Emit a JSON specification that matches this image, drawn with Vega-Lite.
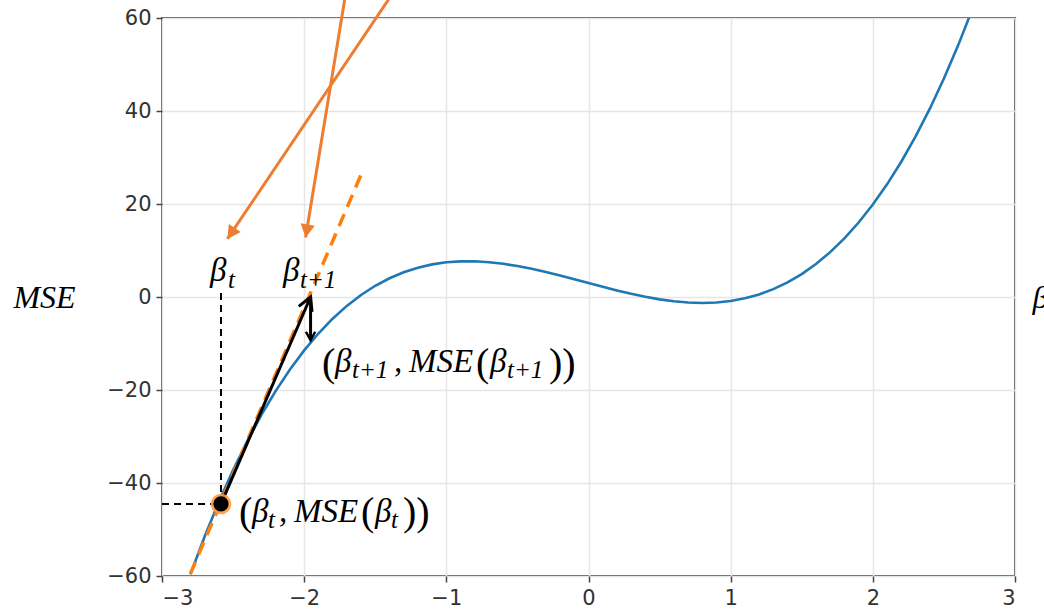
{
  "$schema": "https://vega.github.io/schema/vega-lite/v6.json",
  "width": 853,
  "height": 558,
  "autosize": {"type": "none"},
  "padding": {"left": 162, "top": 18, "right": 29, "bottom": 40},
  "background": "white",
  "config": {
    "view": {"stroke": "#555", "strokeWidth": 2},
    "axis": {
      "labelFont": "DejaVu Sans", "labelFontSize": 21, "labelColor": "#333",
      "tickColor": "#444", "tickWidth": 1.5, "tickSize": 6,
      "domain": false, "grid": true, "gridColor": "#e6e6e6", "gridWidth": 1.5,
      "titleFont": "Liberation Serif", "titleFontStyle": "italic", "titleFontWeight": "normal",
      "titleFontSize": 32, "titleColor": "black"
    }
  },
  "datasets": {
    "curve": [
      {"x": -2.8, "y": -59.608}, {"x": -2.7, "y": -51.513}, {"x": -2.6, "y": -44.06}, {"x": -2.5, "y": -37.225},
      {"x": -2.4, "y": -30.984}, {"x": -2.3, "y": -25.313}, {"x": -2.2, "y": -20.188}, {"x": -2.1, "y": -15.585},
      {"x": -2.0, "y": -11.48}, {"x": -1.9, "y": -7.849}, {"x": -1.8, "y": -4.668}, {"x": -1.7, "y": -1.913},
      {"x": -1.6, "y": 0.44}, {"x": -1.5, "y": 2.415}, {"x": -1.4, "y": 4.036}, {"x": -1.3, "y": 5.327},
      {"x": -1.2, "y": 6.312}, {"x": -1.1, "y": 7.015}, {"x": -1.0, "y": 7.46}, {"x": -0.9, "y": 7.671},
      {"x": -0.8, "y": 7.672}, {"x": -0.7, "y": 7.487}, {"x": -0.6, "y": 7.14}, {"x": -0.5, "y": 6.655},
      {"x": -0.4, "y": 6.056}, {"x": -0.3, "y": 5.367}, {"x": -0.2, "y": 4.612}, {"x": -0.1, "y": 3.815},
      {"x": 0.0, "y": 3.0}, {"x": 0.1, "y": 2.191}, {"x": 0.2, "y": 1.412}, {"x": 0.3, "y": 0.687},
      {"x": 0.4, "y": 0.04}, {"x": 0.5, "y": -0.505}, {"x": 0.6, "y": -0.924}, {"x": 0.7, "y": -1.193},
      {"x": 0.8, "y": -1.288}, {"x": 0.9, "y": -1.185}, {"x": 1.0, "y": -0.86}, {"x": 1.1, "y": -0.289},
      {"x": 1.2, "y": 0.552}, {"x": 1.3, "y": 1.687}, {"x": 1.4, "y": 3.14}, {"x": 1.5, "y": 4.935},
      {"x": 1.6, "y": 7.096}, {"x": 1.7, "y": 9.647}, {"x": 1.8, "y": 12.612}, {"x": 1.9, "y": 16.015},
      {"x": 2.0, "y": 19.88}, {"x": 2.1, "y": 24.231}, {"x": 2.2, "y": 29.092}, {"x": 2.3, "y": 34.487},
      {"x": 2.4, "y": 40.44}, {"x": 2.5, "y": 46.975}, {"x": 2.6, "y": 54.116}, {"x": 2.7, "y": 61.887}
    ],
    "tangent": [{"x": -2.8, "y": -59.5}, {"x": -1.59, "y": 27.0}],
    "guides": [
      {"g": "v", "x": -2.585, "y": -44.5}, {"g": "v", "x": -2.585, "y": 1.0},
      {"g": "h", "x": -3.0, "y": -44.5}, {"g": "h", "x": -2.585, "y": -44.5}
    ],
    "shafts": [
      {"g": "step", "x": -2.585, "y": -44.5}, {"g": "step", "x": -1.955, "y": 0.0},
      {"g": "drop", "x": -1.955, "y": 0.0}, {"g": "drop", "x": -1.955, "y": -9.3}
    ],
    "pointers": [
      {"g": "a", "x": -1.395, "y": 64.5}, {"g": "a", "x": -2.54, "y": 12.5},
      {"g": "b", "x": -1.712, "y": 64.5}, {"g": "b", "x": -1.99, "y": 12.8}
    ],
    "start": [{"x": -2.585, "y": -44.5}],
    "labels": [
      {"k": "m", "t": "β", "x": -2.6624, "y": 3.441},
      {"k": "s", "t": "t", "x": -2.5358, "y": 1.935},
      {"k": "m", "t": "β", "x": -2.1489, "y": 3.441},
      {"k": "s", "t": "t+1", "x": -2.0293, "y": 1.935},

      {"k": "p", "t": "(", "x": -1.8746, "y": -16.989},
      {"k": "m", "t": "β", "x": -1.7832, "y": -16.129},
      {"k": "s", "t": "t+1", "x": -1.6636, "y": -17.419},
      {"k": "m", "t": ",", "x": -1.3681, "y": -16.129},
      {"k": "m", "t": "MSE", "x": -1.2627, "y": -16.129},
      {"k": "p", "t": "(", "x": -0.7914, "y": -16.989},
      {"k": "m", "t": "β", "x": -0.6929, "y": -16.129},
      {"k": "s", "t": "t+1", "x": -0.5733, "y": -17.419},
      {"k": "p", "t": "))", "x": -0.2779, "y": -16.989},

      {"k": "p", "t": "(", "x": -2.4584, "y": -49.032},
      {"k": "m", "t": "β", "x": -2.367, "y": -48.387},
      {"k": "s", "t": "t", "x": -2.2544, "y": -49.677},
      {"k": "m", "t": ",", "x": -2.177, "y": -48.387},
      {"k": "m", "t": "MSE", "x": -2.0715, "y": -48.387},
      {"k": "p", "t": "(", "x": -1.6003, "y": -49.032},
      {"k": "m", "t": "β", "x": -1.5018, "y": -48.387},
      {"k": "s", "t": "t", "x": -1.3893, "y": -49.677},
      {"k": "p", "t": "))", "x": -1.3049, "y": -49.032}
    ]
  },
  "encoding": {
    "x": {"field": "x", "type": "quantitative",
      "scale": {"domain": [-3, 3], "nice": false, "zero": false},
      "axis": {"values": [-3, -2, -1, 0, 1, 2, 3], "title": "β", "titleX": 870, "titleY": -279,
        "titleAlign": "left", "titleBaseline": "middle", "labelPadding": 5}},
    "y": {"field": "y", "type": "quantitative",
      "scale": {"domain": [-60, 60], "nice": false, "zero": false},
      "axis": {"values": [-60, -40, -20, 0, 20, 40, 60], "title": "MSE", "titleAngle": 0,
        "titleX": -118, "titleY": 279, "titleAlign": "center", "titleBaseline": "middle", "labelPadding": 5}}
  },
  "layer": [
    {"data": {"name": "curve"}, "mark": {"type": "line", "color": "#1f77b4", "strokeWidth": 2.6, "clip": true}},
    {"data": {"name": "tangent"}, "mark": {"type": "line", "color": "#ff7f0e", "strokeWidth": 3.5, "strokeDash": [13, 8], "clip": true}},
    {"data": {"name": "guides"}, "mark": {"type": "line", "color": "black", "strokeWidth": 2, "strokeDash": [7, 5]},
      "encoding": {"detail": {"field": "g"}}},
    {"data": {"name": "shafts"}, "mark": {"type": "line", "color": "black", "strokeWidth": 3},
      "encoding": {"detail": {"field": "g"}}},
    {"data": {"name": "shafts"}, "transform": [{"filter": "datum.g == 'step' && datum.y == 0"}],
      "mark": {"type": "point", "shape": "M-0.6,-1.1L0,0L0.6,-1.1", "filled": false, "stroke": "black", "strokeWidth": 3, "size": 576, "angle": 203, "opacity": 1}},
    {"data": {"name": "shafts"}, "transform": [{"filter": "datum.g == 'drop' && datum.y < 0"}],
      "mark": {"type": "point", "shape": "M-0.6,-1.1L0,0L0.6,-1.1", "filled": false, "stroke": "black", "strokeWidth": 2.5, "size": 240, "angle": 0, "opacity": 1}},
    {"data": {"name": "pointers"}, "mark": {"type": "line", "color": "#ed7d31", "strokeWidth": 3, "clip": false},
      "encoding": {"detail": {"field": "g"}}},
    {"data": {"name": "pointers"}, "transform": [{"filter": "datum.g == 'a' && datum.y < 60"}],
      "mark": {"type": "point", "shape": "M0,0L-0.6,-1.1L0.6,-1.1Z", "filled": true, "color": "#ed7d31", "size": 576, "angle": 34, "opacity": 1}},
    {"data": {"name": "pointers"}, "transform": [{"filter": "datum.g == 'b' && datum.y < 60"}],
      "mark": {"type": "point", "shape": "M0,0L-0.6,-1.1L0.6,-1.1Z", "filled": true, "color": "#ed7d31", "size": 576, "angle": 9.5, "opacity": 1}},
    {"data": {"name": "start"}, "mark": {"type": "circle", "color": "#ff9a3c", "size": 420, "opacity": 0.9}},
    {"data": {"name": "start"}, "mark": {"type": "circle", "color": "black", "size": 230, "opacity": 1}},
    {"data": {"name": "labels"}, "transform": [{"filter": "datum.k == 'm'"}],
      "mark": {"type": "text", "font": "Liberation Serif", "fontStyle": "italic", "fontSize": 33, "align": "left", "baseline": "alphabetic", "color": "black", "clip": false},
      "encoding": {"text": {"field": "t"}}},
    {"data": {"name": "labels"}, "transform": [{"filter": "datum.k == 's'"}],
      "mark": {"type": "text", "font": "Liberation Serif", "fontStyle": "italic", "fontSize": 25, "align": "left", "baseline": "alphabetic", "color": "black", "clip": false},
      "encoding": {"text": {"field": "t"}}},
    {"data": {"name": "labels"}, "transform": [{"filter": "datum.k == 'p'"}],
      "mark": {"type": "text", "font": "Liberation Serif", "fontSize": 40, "align": "left", "baseline": "alphabetic", "color": "black", "clip": false},
      "encoding": {"text": {"field": "t"}}}
  ]
}
